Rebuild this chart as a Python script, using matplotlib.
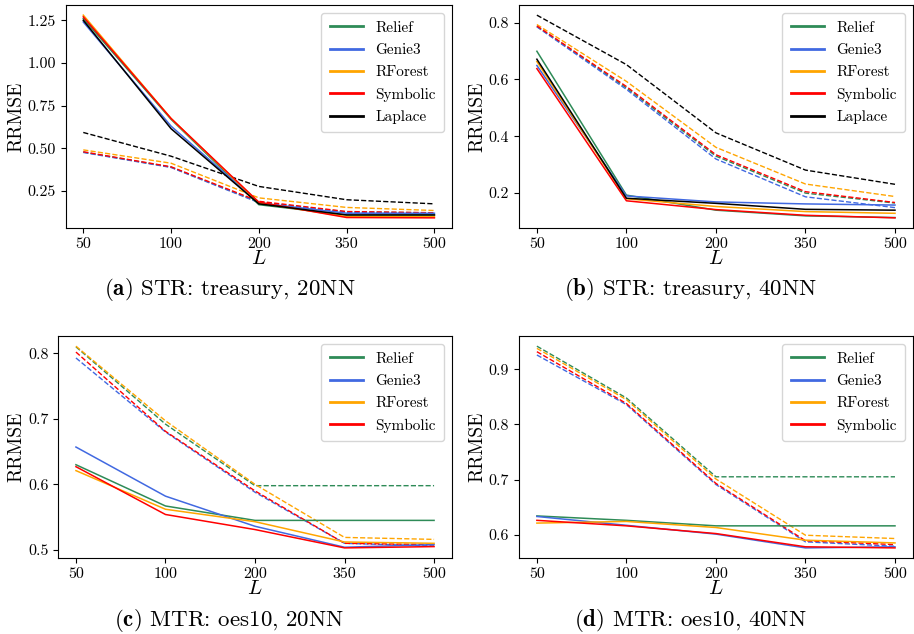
import matplotlib
matplotlib.use("Agg")
import matplotlib.pyplot as plt

plt.rcParams["font.family"] = "serif"
plt.rcParams["font.serif"] = ["cmr10"]
plt.rcParams["mathtext.fontset"] = "cm"
plt.rcParams["axes.unicode_minus"] = False
plt.rcParams["axes.formatter.use_mathtext"] = True

L_LABELS = ["50", "100", "200", "350", "500"]
METHODS = ["Relief", "Genie3", "RForest", "Symbolic", "Laplace"]
COLORS = {"Relief": "seagreen", "Genie3": "royalblue", "RForest": "orange",
          "Symbolic": "red", "Laplace": "black"}

# (a) STR treasury 20NN
a_solid = {
    "Relief":   [1.26, 0.67, 0.17, 0.11, 0.11],
    "Genie3":   [1.24, 0.63, 0.18, 0.12, 0.12],
    "RForest":  [1.28, 0.675, 0.18, 0.10, 0.10],
    "Symbolic": [1.27, 0.675, 0.185, 0.095, 0.093],
    "Laplace":  [1.25, 0.615, 0.175, 0.11, 0.11],
}
a_dashed = {
    "Relief":   [0.478, 0.39, 0.185, 0.128, 0.122],
    "Genie3":   [0.476, 0.388, 0.182, 0.126, 0.12],
    "RForest":  [0.491, 0.413, 0.21, 0.154, 0.136],
    "Symbolic": [0.48, 0.392, 0.19, 0.13, 0.123],
    "Laplace":  [0.593, 0.454, 0.277, 0.199, 0.175],
}
a_yticks = [0.25, 0.50, 0.75, 1.00, 1.25]

# (b) STR treasury 40NN
b_solid = {
    "Relief":   [0.699, 0.193, 0.14, 0.12, 0.114],
    "Genie3":   [0.649, 0.19, 0.169, 0.162, 0.158],
    "RForest":  [0.663, 0.18, 0.153, 0.135, 0.129],
    "Symbolic": [0.638, 0.173, 0.142, 0.122, 0.113],
    "Laplace":  [0.671, 0.182, 0.164, 0.143, 0.14],
}
b_dashed = {
    "Relief":   [0.786, 0.57, 0.33, 0.2, 0.165],
    "Genie3":   [0.785, 0.565, 0.32, 0.187, 0.149],
    "RForest":  [0.793, 0.593, 0.361, 0.232, 0.188],
    "Symbolic": [0.788, 0.575, 0.335, 0.205, 0.167],
    "Laplace":  [0.826, 0.652, 0.412, 0.281, 0.231],
}
b_yticks = [0.2, 0.4, 0.6, 0.8]

# (c) MTR oes10 20NN
c_solid = {
    "Relief":   [0.630, 0.567, 0.545, 0.545, 0.545],
    "Genie3":   [0.657, 0.582, 0.536, 0.504, 0.508],
    "RForest":  [0.621, 0.562, 0.543, 0.512, 0.51],
    "Symbolic": [0.627, 0.554, 0.531, 0.503, 0.505],
}
c_dashed = {
    "Relief":   [0.81, 0.692, 0.598, 0.598, 0.598],
    "Genie3":   [0.793, 0.68, 0.588, 0.51, 0.506],
    "RForest":  [0.811, 0.697, 0.6, 0.519, 0.516],
    "Symbolic": [0.802, 0.681, 0.59, 0.51, 0.508],
}
c_yticks = [0.5, 0.6, 0.7, 0.8]

# (d) MTR oes10 40NN
d_solid = {
    "Relief":   [0.634, 0.626, 0.616, 0.616, 0.616],
    "Genie3":   [0.633, 0.617, 0.601, 0.576, 0.578],
    "RForest":  [0.621, 0.624, 0.613, 0.59, 0.585],
    "Symbolic": [0.626, 0.616, 0.602, 0.578, 0.576],
}
d_dashed = {
    "Relief":   [0.942, 0.848, 0.705, 0.705, 0.705],
    "Genie3":   [0.926, 0.836, 0.691, 0.587, 0.579],
    "RForest":  [0.938, 0.845, 0.701, 0.599, 0.593],
    "Symbolic": [0.932, 0.838, 0.693, 0.589, 0.582],
}
d_yticks = [0.6, 0.7, 0.8, 0.9]

panels = [
    ([0.0719, 0.6404, 0.4226, 0.3517], a_solid, a_dashed, a_yticks, "%.2f", -0.105,
     r"$\mathbf{(a)}$ STR: treasury, 20NN", 0.251, 0.544),
    ([0.5678, 0.6404, 0.4310, 0.3517], b_solid, b_dashed, b_yticks, "%.1f", -0.084,
     r"$\mathbf{(b)}$ STR: treasury, 40NN", 0.755, 0.544),
    ([0.0635, 0.1199, 0.4310, 0.3500], c_solid, c_dashed, c_yticks, "%.1f", -0.084,
     r"$\mathbf{(c)}$ MTR: oes10, 20NN", 0.251, 0.022),
    ([0.5678, 0.1199, 0.4310, 0.3500], d_solid, d_dashed, d_yticks, "%.1f", -0.084,
     r"$\mathbf{(d)}$ MTR: oes10, 40NN", 0.755, 0.022),
]


def main():
    fig = plt.figure(figsize=(9.14, 6.34), dpi=100)
    x = list(range(len(L_LABELS)))

    for rect, solid, dashed, yticks, fmt, ylab_x, caption, cx, cy in panels:
        ax = fig.add_axes(rect)
        for m in METHODS:
            if m in dashed:
                ax.plot(x, dashed[m], color=COLORS[m], linestyle="--", linewidth=1.0)
        for m in METHODS:
            if m in solid:
                ax.plot(x, solid[m], color=COLORS[m], linewidth=1.1, label=m)
        ax.set_xticks(x)
        ax.set_xticklabels(L_LABELS)
        ax.set_yticks(yticks)
        ax.set_yticklabels([fmt % v for v in yticks])
        ax.tick_params(labelsize=11.5)
        ax.set_xlabel(r"$L$", fontsize=15, labelpad=-1)
        ax.set_ylabel("RRMSE", fontsize=14)
        ax.yaxis.set_label_coords(ylab_x, 0.5)
        leg = ax.legend(loc="upper right", fontsize=11, labelspacing=0.55,
                        handlelength=2.2, borderpad=0.55)
        for line in leg.get_lines():
            line.set_linewidth(2.0)
        fig.text(cx, cy, caption, ha="center", va="center", fontsize=16.5)

    fig.savefig("out.png", dpi=100)


if __name__ == "__main__":
    main()
